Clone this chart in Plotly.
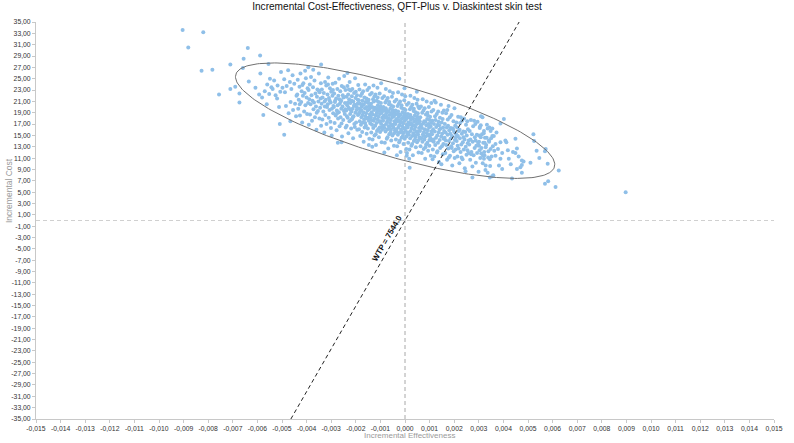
import numpy as np
import plotly.graph_objects as go

# Incremental effectiveness in thousandths of a QALY (x) and incremental cost (y),
# read off the reference scatter, split in three groups along the x axis.
eff_left = [
    -9.04, -8.2, -8.81, -8.27, -7.83, -7.56, -7.1, -7.1,
    -6.9, -6.73, -6.73, -6.56, -6.59, -6.35, -6.08, -5.93,
    -6.39, -5.81, -5.7, -5.62, -5.6, -5.52, -5.49, -5.43, -5.88,
    -5.89, -5.55, -5.76, -5.38, -5.32, -5.26, -5.2, -5.18, -5.12, -5.07,
    -5.04, -4.98, -4.91,
    -5.09, -4.88, -4.84, -4.81, -4.75, -4.73, -4.68, -4.65, -4.62, -4.57,
    -4.55, -4.5, -4.47, -4.43, -4.41, -4.66,
    -4.91, -4.38, -4.36, -4.34, -4.32, -4.29, -4.27, -4.25, -4.22, -4.2,
    -4.18, -4.15, -4.13, -4.1, -4.08, -4.05, -4.03, -4.0, -3.98, -3.96,
    -3.94, -3.92, -3.91, -4.06, -4.17, -4.28,
    -3.89, -3.87, -3.86, -3.84, -3.82, -3.8, -3.78, -3.76, -3.74, -3.72,
    -3.7, -3.68, -3.66, -3.64, -3.62, -3.6, -3.58, -3.56, -3.54, -3.52,
    -3.5, -3.48, -3.47, -3.45, -3.43, -3.42, -3.41, -3.73, -3.59, -3.51,
    -3.39, -3.38, -3.36, -3.35, -3.93, -3.32, -3.3, -3.28, -3.27, -3.25,
    -3.24, -3.22, -3.2, -3.19, -3.17, -3.15, -3.14, -3.12, -3.1, -3.09,
    -3.07, -3.05, -3.03, -3.02, -3.0, -2.98, -2.97, -2.95, -2.94, -2.92,
    -2.91, -3.01, -3.13, -3.26, -3.06, -2.93,
    -2.89, -2.88, -2.86, -2.85, -2.83, -2.82, -3.41, -2.8, -2.78, -2.77,
    -2.75, -2.74, -2.72, -2.71, -2.69, -2.68, -2.66, -2.65, -2.63, -2.62,
    -2.6, -2.59, -2.57, -2.56, -2.54, -2.53, -2.51, -2.5, -2.48, -2.47,
    -2.45, -2.44, -2.42, -2.41, -2.84, -2.76, -2.67, -2.58, -2.49, -2.43,
    -2.73, -2.61,
]
cost_left = [
    33.6, 33.2, 30.5, 26.4, 26.6, 22.2, 27.5, 23.2,
    23.6, 22.4, 20.8, 28.5, 26.9, 24.5, 23.4, 22.2,
    30.4, 21.7, 22.8, 20.5, 24.0, 22.3, 25.0, 23.5, 25.9,
    29.1, 27.6, 18.6, 23.2, 24.7, 22.1, 21.5, 23.8, 20.0, 22.7,
    26.2, 23.4, 24.9,
    17.0, 22.6, 20.2, 23.7, 26.5, 18.9, 24.4, 20.9, 23.2, 25.6,
    19.5, 24.1, 20.6, 18.4, 22.0, 17.5,
    15.1, 22.2, 24.8, 19.7, 21.3, 23.6, 18.5, 25.9, 20.9, 22.8,
    17.3, 22.0, 24.2, 19.2, 22.5, 20.3, 25.1, 21.7, 18.8, 23.3,
    20.7, 23.0, 16.9, 26.4, 23.9, 20.5,
    21.4, 24.0, 18.7, 20.5, 25.3, 22.1, 17.6, 21.1, 23.5, 19.6,
    20.8, 24.7, 18.2, 22.4, 20.1, 16.0, 21.8, 23.1, 19.3, 21.0,
    25.9, 18.0, 22.6, 19.9, 21.5, 24.2, 16.7, 26.6, 19.0, 22.9,
    20.6, 23.1, 17.8, 21.7, 27.0, 19.2, 22.5, 15.5, 21.0, 24.4,
    18.6, 21.3, 23.8, 17.0, 20.0, 22.2, 20.5, 25.2, 18.1, 21.6,
    19.5, 23.3, 17.4, 20.8, 22.7, 15.0, 19.7, 22.0, 24.1, 18.9,
    20.2, 16.3, 24.0, 20.1, 21.1, 23.0,
    20.0, 22.4, 17.2, 20.9, 24.3, 18.5, 27.5, 21.5, 15.9, 19.4,
    23.2, 20.3, 18.0, 22.0, 19.1, 25.0, 16.6, 20.6, 22.8, 18.2,
    21.2, 19.7, 23.7, 14.8, 20.1, 22.1, 17.7, 21.7, 19.3, 25.5,
    18.8, 20.7, 23.0, 16.4, 21.1, 18.9, 21.4, 17.1, 23.5, 19.6,
    13.7, 21.0,
]

eff_mid = [
    -2.39, -2.38, -2.37, -2.35, -2.34, -2.33, -2.31, -2.3, -2.29, -2.27,
    -2.26, -2.25, -2.23, -2.22, -2.21, -2.19, -2.18, -2.17, -2.15, -2.14,
    -2.13, -2.11, -2.1, -2.09, -2.07, -2.06, -2.05, -2.03, -2.02, -2.01,
    -1.99, -2.58, -1.97, -1.95, -1.94, -1.93, -1.91, -1.9, -2.36, -2.32,
    -2.28, -2.24, -2.2, -2.16, -2.12, -2.08, -2.04, -2.0, -1.96, -1.92,
    -1.89, -1.88, -1.87, -1.86, -1.85, -1.84, -1.83, -1.82, -1.81, -1.8,
    -1.79, -2.34, -1.77, -1.76, -1.75, -1.74, -1.73, -1.72, -1.71, -1.7,
    -1.69, -1.68, -1.67, -1.66, -1.65, -1.64, -1.63, -1.62, -1.61, -1.6,
    -1.59, -1.58, -1.57, -1.56, -1.55, -1.54, -1.53, -1.52, -1.51, -1.5,
    -1.49, -1.48, -1.47, -1.46, -1.45, -1.44, -1.43, -1.42, -1.41, -1.4,
    -1.85, -1.73, -1.62, -1.51, -1.46, -1.78,
    -1.39, -1.38, -1.37, -1.36, -1.35, -1.34, -1.33, -1.32, -1.31, -1.3,
    -1.29, -1.28, -1.27, -1.26, -1.25, -1.24, -1.23, -1.22, -1.21, -1.2,
    -1.19, -1.18, -1.17, -1.16, -1.15, -1.14, -1.13, -1.12, -1.11, -1.1,
    -1.09, -1.08, -1.07, -1.06, -1.05, -1.04, -1.03, -1.02, -1.01, -1.0,
    -0.99, -0.98, -0.97, -0.96, -0.95, -0.94, -0.93, -0.92, -0.91, -0.9,
    -1.36, -1.27, -1.19, -1.11, -1.03, -0.97, -1.33, -1.15, -1.06, -0.93,
    -0.89, -0.88, -1.47, -0.86, -0.85, -0.84, -0.83, -0.82, -0.81, -0.8,
    -0.79, -0.78, -0.77, -0.76, -0.75, -0.74, -0.73, -0.72, -0.71, -0.7,
    -0.69, -0.68, -0.67, -0.66, -0.65, -0.64, -0.63, -0.62, -0.61, -0.6,
    -0.59, -0.58, -0.57, -0.56, -0.55, -0.54, -0.53, -0.52, -0.51, -0.5,
    -0.49, -0.48, -0.47, -0.46, -0.45, -0.44, -0.43, -0.42, -0.41, -0.4,
    -0.86, -0.78, -0.71, -0.64, -0.57, -0.49, -0.84, -0.67, -0.53, -0.44,
    -0.75, -0.61,
    -0.39, -0.38, -0.37, -0.36, -0.35, -0.34, -0.33, -0.32, -0.31, -0.3,
    -0.29, -0.28, -0.27, -0.26, -0.25, -0.24, -0.23, -0.22, -0.21, -0.2,
    -0.19, -0.18, -0.17, -0.16, -0.15, -0.14, -0.13, -0.12, -0.11, -0.1,
    -0.09, -0.08, -0.07, -0.06, -0.05, -0.04, -0.03, -0.02, -0.01, 0.0,
    0.01, 0.02, 0.03, 0.04, 0.05, 0.06, 0.07, 0.08, 0.09, 0.1,
    -0.36, -0.28, -0.21, -0.14, -0.07, 0.01, -0.33, -0.16, -0.03, 0.06,
    -0.25, -0.11, -0.02, 0.08,
    0.11, 0.12, 0.13, 0.14, 0.15, 0.16, 0.17, 0.18, 0.19, 0.2,
    0.21, 0.22, 0.23, 0.24, 0.25, 0.26, 0.27, 0.28, 0.29, 0.3,
    0.31, 0.32, 0.33, 0.34, 0.35, 0.36, 0.37, 0.38, 0.39, 0.4,
    0.41, 0.42, 0.43, 0.44, 0.45, 0.46, 0.47, 0.48, 0.49, 0.5,
    0.51, 0.52, 0.53, 0.54, 0.55, 0.56, 0.57, 0.58, 0.59, 0.6,
    0.14, 0.22, 0.29, 0.36, 0.43, 0.51, 0.17, 0.34, 0.47, 0.56,
    0.25, 0.39, 0.48, 0.54, -0.23,
]
cost_mid = [
    19.4, 21.8, 16.7, 20.3, 23.7, 18.1, 22.2, 15.4, 19.9, 21.4,
    17.5, 24.4, 18.8, 20.7, 22.9, 16.2, 19.2, 21.1, 17.9, 23.2,
    19.7, 14.5, 21.0, 18.4, 22.5, 17.0, 20.4, 25.1, 19.0, 21.6,
    17.3, 13.8, 19.5, 22.1, 16.0, 20.6, 18.6, 23.9, 18.4, 20.8,
    23.1, 19.6, 17.7, 21.9, 18.2, 20.2, 16.5, 22.7, 20.0, 21.3,
    18.8, 21.2, 16.1, 19.7, 23.1, 17.5, 20.6, 14.9, 19.3, 22.0,
    16.9, 26.0, 18.2, 20.1, 22.4, 15.6, 18.6, 20.5, 17.3, 22.8,
    19.1, 13.9, 20.4, 17.8, 21.7, 16.4, 19.8, 24.0, 18.4, 20.9,
    16.7, 18.9, 21.5, 15.3, 20.0, 18.0, 23.0, 19.4, 16.2, 20.7,
    18.1, 21.3, 17.6, 19.6, 14.4, 20.2, 18.7, 22.2, 17.1, 19.9,
    19.0, 21.1, 17.2, 21.0, 23.4, 19.5,
    18.2, 20.6, 15.5, 19.1, 22.5, 16.9, 20.0, 14.3, 18.7, 21.4,
    16.3, 23.8, 17.6, 19.5, 21.8, 15.0, 18.0, 19.9, 16.7, 22.2,
    18.5, 13.3, 19.8, 17.2, 21.1, 15.8, 19.2, 23.4, 17.8, 20.3,
    16.1, 18.3, 20.9, 14.7, 19.4, 17.4, 22.4, 18.8, 15.6, 20.1,
    17.5, 20.7, 17.0, 19.0, 13.8, 19.6, 18.1, 21.6, 16.5, 19.3,
    17.7, 21.0, 15.2, 21.7, 16.4, 24.2, 13.0, 18.9, 19.7, 16.0,
    17.6, 20.0, 13.3, 18.5, 21.9, 16.3, 19.4, 13.7, 18.1, 20.8,
    15.7, 23.2, 17.0, 18.9, 21.2, 14.4, 17.4, 19.3, 16.1, 21.6,
    17.9, 12.7, 19.2, 16.6, 20.5, 15.2, 18.6, 22.8, 17.2, 19.7,
    15.5, 17.7, 20.3, 14.1, 18.8, 16.8, 21.8, 18.2, 15.0, 19.5,
    16.9, 20.1, 16.4, 18.4, 13.2, 19.0, 17.5, 21.0, 15.9, 18.7,
    16.7, 19.8, 14.7, 20.9, 16.0, 22.5, 12.0, 18.0, 19.1, 15.4,
    18.3, 16.2,
    17.0, 19.4, 14.3, 17.9, 21.3, 15.7, 18.8, 13.1, 17.5, 20.2,
    15.1, 22.6, 16.4, 18.3, 20.6, 13.8, 16.8, 18.7, 15.5, 21.0,
    17.3, 12.1, 18.6, 16.0, 19.9, 14.6, 18.0, 22.2, 16.6, 19.1,
    14.9, 17.1, 19.7, 13.5, 18.2, 16.2, 21.2, 17.6, 14.4, 18.9,
    16.3, 19.5, 15.8, 17.8, 12.6, 18.4, 16.9, 20.4, 15.3, 18.1,
    16.1, 19.2, 14.1, 20.3, 15.4, 21.9, 11.5, 17.4, 18.5, 14.8,
    17.7, 15.6, 23.3, 11.9,
    16.4, 18.8, 13.7, 17.3, 20.7, 15.1, 18.2, 12.5, 16.9, 19.6,
    14.5, 22.0, 15.8, 17.7, 20.0, 13.2, 16.2, 18.1, 14.9, 20.4,
    16.7, 11.5, 18.0, 15.4, 19.3, 14.0, 17.4, 21.6, 16.0, 18.5,
    14.3, 16.5, 19.1, 12.9, 17.6, 15.6, 20.6, 17.0, 13.8, 18.3,
    15.7, 18.9, 15.2, 17.2, 12.0, 17.8, 16.3, 19.8, 14.7, 17.5,
    15.5, 18.6, 13.5, 19.7, 14.8, 21.3, 10.9, 16.8, 17.9, 14.2,
    17.1, 15.0, 22.7, 20.1, 25.0,
]

eff_right = [
    0.61, 0.62, 0.63, 0.64, 0.65, 0.66, 0.07, 0.68, 0.69, 0.7,
    0.71, 0.72, 0.73, 0.74, 0.75, 0.76, 0.77, 0.78, 0.79, 0.8,
    0.81, 0.82, 0.83, 0.84, 0.85, 0.86, 0.87, 0.88, 0.89, 0.9,
    0.91, 0.92, 0.93, 0.94, 0.95, 0.96, 0.97, 0.98, 0.99, 1.0,
    1.01, 1.02, 1.03, 1.04, 1.05, 1.06, 1.07, 1.08, 1.09, 0.66,
    0.74, 0.83, 0.91, 0.99, 1.07, 0.19,
    1.1, 1.11, 1.13, 1.14, 1.15, 1.17, 1.18, 1.19, 1.21, 1.22,
    1.23, 1.25, 1.26, 1.27, 1.29, 1.3, 1.31, 1.33, 1.34, 1.35,
    1.37, 1.38, 1.39, 1.41, 1.42, 1.43, 1.45, 1.46, 1.47, 1.49,
    1.5, 1.51, 1.53, 1.54, 1.55, 1.57, 1.58, 1.59, 1.16, 1.24,
    1.32, 1.4, 1.48, 1.56, 1.2, 1.36, 1.52, 1.12,
    1.61, 1.62, 1.64, 1.65, 1.67, 1.68, 1.7, 1.71, 1.73, 1.74,
    1.76, 1.77, 1.79, 1.8, 1.82, 1.83, 1.85, 1.86, 1.88, 1.89,
    1.91, 1.92, 1.94, 1.95, 1.97, 1.98, 2.0, 2.01, 2.03, 2.04,
    2.06, 2.07, 2.09, 1.66, 1.72, 1.78, 1.84, 1.9, 1.96, 2.02,
    2.08, 1.75,
    2.1, 2.12, 2.13, 2.15, 2.16, 2.18, 2.19, 2.21, 2.23, 2.24,
    2.26, 2.27, 2.29, 2.31, 2.32, 2.34, 2.35, 2.37, 2.39, 2.4,
    2.42, 2.43, 2.45, 2.47, 2.48, 2.5, 2.51, 2.53, 2.55, 2.56,
    2.58, 2.59, 2.14, 2.22, 2.3, 2.38, 2.46, 2.54,
    2.61, 2.63, 2.65, 2.66, 2.68, 2.7, 2.72, 2.74, 2.75, 2.77,
    2.79, 2.81, 2.83, 2.84, 2.86, 2.88, 2.9, 2.92, 2.93, 2.95,
    2.97, 2.99, 3.01, 3.03, 3.04, 3.06, 3.08, 3.09, 2.69, 2.87,
    3.11, 3.13, 3.16, 3.18, 3.2, 3.23, 3.25, 3.27, 3.3, 3.32,
    2.74, 3.36, 3.39, 3.41, 3.43, 3.46, 3.48, 3.5, 3.52, 3.55,
    3.57, 3.59, 3.22, 3.45,
    3.01, 3.01, 3.08, 3.15, 3.17, 3.21, 3.21, 3.28, 3.28, 3.45,
    3.48, 3.04, 3.1, 3.24, 3.33, 3.38, 3.42, 3.36,
    3.55, 3.61, 3.68, 3.68, 3.55, 3.88, 3.88, 3.95, 3.88, 3.82,
    3.95, 3.72, 3.63, 3.78,
    4.02, 4.08, 4.12, 4.22, 4.35, 4.39, 4.49, 4.49, 4.18, 4.3,
    4.55, 4.55, 4.69, 4.75, 4.82, 4.75, 4.75, 4.62,
    5.22, 5.25, 5.46, 5.1, 5.35,
    5.69, 5.72, 5.8, 5.82, 5.69, 6.12, 6.25, 8.97,
]
cost_right = [
    15.8, 18.2, 13.1, 16.7, 20.1, 14.5, 11.4, 11.9, 16.3, 19.0,
    13.9, 21.4, 15.2, 17.1, 19.4, 12.6, 15.6, 17.5, 14.3, 19.8,
    16.1, 10.9, 17.4, 14.8, 18.7, 13.4, 16.8, 21.0, 15.4, 17.9,
    13.7, 15.9, 18.5, 12.3, 17.0, 15.0, 20.0, 16.4, 13.2, 17.7,
    15.1, 18.3, 14.6, 16.6, 11.4, 17.2, 15.7, 19.2, 14.1, 16.9,
    14.9, 12.9, 19.0, 14.2, 20.7, 9.3,
    15.2, 17.6, 12.5, 16.1, 19.5, 13.9, 17.0, 11.3, 15.7, 18.4,
    13.3, 20.8, 14.6, 16.5, 18.8, 12.0, 15.0, 16.9, 13.7, 19.2,
    15.5, 10.3, 16.8, 14.2, 18.1, 12.8, 16.2, 20.4, 14.8, 17.3,
    13.1, 15.3, 17.9, 11.7, 16.4, 14.4, 19.4, 15.8, 14.3, 17.7,
    12.2, 16.0, 9.9, 13.5, 21.1, 17.4, 19.0, 10.8,
    14.6, 17.0, 11.9, 15.5, 18.9, 13.3, 16.4, 10.7, 15.1, 17.8,
    12.7, 20.2, 14.0, 15.9, 18.2, 11.4, 14.4, 16.3, 13.1, 18.6,
    14.9, 9.7, 16.2, 13.6, 17.5, 12.2, 15.6, 19.8, 14.2, 16.7,
    12.5, 14.7, 17.3, 14.1, 19.5, 11.1, 15.3, 12.8, 16.0, 11.0,
    15.2, 16.7,
    14.0, 16.4, 11.3, 14.9, 18.3, 12.7, 15.8, 10.1, 14.5, 17.2,
    12.1, 18.2, 13.4, 15.3, 17.6, 10.8, 13.8, 15.7, 12.5, 18.0,
    14.3, 9.2, 15.6, 13.0, 16.9, 11.6, 15.0, 17.5, 13.6, 16.1,
    11.9, 14.1, 13.2, 16.0, 11.1, 14.7, 8.7, 12.4,
    13.4, 15.8, 10.7, 14.3, 17.7, 12.1, 15.2, 9.5, 13.9, 16.6,
    11.5, 17.6, 12.8, 14.7, 17.0, 10.2, 13.2, 15.1, 11.9, 17.4,
    13.7, 8.6, 15.0, 12.4, 16.3, 11.0, 16.8, 18.4, 11.7, 14.1,
    12.8, 15.2, 10.1, 13.7, 15.4, 11.5, 14.6, 8.9, 13.3, 14.6,
    7.6, 16.2, 12.2, 14.1, 16.4, 9.6, 12.6, 14.5, 11.3, 14.9,
    13.1, 8.0, 12.1, 10.8,
    13.9, 13.2, 14.7, 18.2, 11.4, 15.8, 10.9, 12.9, 9.7, 7.6,
    15.8, 16.5, 11.8, 13.7, 16.9, 11.1, 13.9, 8.4,
    16.2, 14.9, 13.5, 11.4, 7.8, 17.1, 13.8, 11.9, 10.9, 9.7,
    9.1, 15.5, 12.3, 12.6,
    17.9, 14.1, 13.8, 10.9, 7.4, 12.1, 11.9, 14.4, 12.4, 9.9,
    12.7, 9.1, 9.4, 10.6, 10.4, 9.8, 8.4, 11.3,
    15.2, 14.0, 11.0, 10.2, 12.3,
    12.2, 12.6, 10.0, 6.9, 6.5, 5.9, 8.8, 5.0,
]

wtp = 7544.0
eff_ticks = [i / 1000 for i in range(-15, 16)]
cost_ticks = list(range(-35, 36, 2))

assert len(eff_left) == len(cost_left)
assert len(eff_mid) == len(cost_mid)
assert len(eff_right) == len(cost_right)

eff = np.array(eff_left + eff_mid + eff_right) / 1000
cost = np.array(cost_left + cost_mid + cost_right)

# 95% confidence ellipse of the joint distribution
mu = np.array([eff.mean(), cost.mean()])
vals, vecs = np.linalg.eigh(np.cov(eff, cost))
t = np.linspace(0, 2 * np.pi, 240)
circ = np.vstack([np.cos(t), np.sin(t)])
ell = vecs @ (np.sqrt(vals * 5.991)[:, None] * circ)
ell_x = mu[0] + ell[0]
ell_y = mu[1] + ell[1]

fig = go.Figure()

# dashed quadrant lines through the origin
fig.add_trace(go.Scatter(x=[0, 0], y=[-35, 35], mode='lines',
                         line=dict(color='#a8a8a8', width=1, dash='4px,3px'), hoverinfo='skip'))
fig.add_trace(go.Scatter(x=[-0.015, 0.015], y=[0, 0], mode='lines',
                         line=dict(color='#d0d0d0', width=1, dash='4px,3px'), hoverinfo='skip'))

fig.add_trace(go.Scatter(x=eff, y=cost, mode='markers',
                         marker=dict(size=4, color='#8fbfe8'), name='ICER'))

fig.add_trace(go.Scatter(x=ell_x, y=ell_y, mode='lines',
                         line=dict(color='#707070', width=1), hoverinfo='skip'))

wtp_y = np.array([-35, 35])
fig.add_trace(go.Scatter(x=wtp_y / wtp, y=wtp_y, mode='lines',
                         line=dict(color='#222222', width=1, dash='4px,3px'), hoverinfo='skip'))

fig.add_annotation(x=-0.00074, y=-3.1, text='<b>WTP = 7544.0</b>', showarrow=False,
                   textangle=-60, xanchor='center', yanchor='middle',
                   font=dict(family='Liberation Sans', size=8, color='#111111'))

fig.add_annotation(xref='paper', yref='paper', x=0.506, y=-0.042, text='Incremental Effectiveness',
                   showarrow=False, xanchor='center', yanchor='middle',
                   font=dict(family='Liberation Sans', size=8, color='#9a9a9a'))
fig.add_annotation(xref='paper', yref='paper', x=-0.0375, y=0.575, text='Incremental Cost',
                   showarrow=False, textangle=-90, xanchor='center', yanchor='middle',
                   font=dict(family='Liberation Sans', size=8.5, color='#9a9a9a'))

axis_common = dict(showgrid=False, zeroline=False, showline=True, linecolor='#c8c8c8',
                   ticks='outside', ticklen=3, tickcolor='#c8c8c8',
                   tickfont=dict(family='Liberation Sans', size=6.8, color='#333333'))

fig.update_layout(
    width=794, height=443,
    margin=dict(l=36, r=11, t=22, b=21),
    plot_bgcolor='white', paper_bgcolor='white',
    showlegend=False,
    title=dict(text='Incremental Cost-Effectiveness, QFT-Plus v. Diaskintest skin test',
               xref='container', x=0.5, xanchor='center', y=0.986, yanchor='middle',
               font=dict(family='Liberation Sans', size=10.1, color='#111111')),
    xaxis=dict(range=[-0.015, 0.015], tickvals=eff_ticks,
               ticktext=[f'{v:.3f}'.replace('.', ',') for v in eff_ticks], **axis_common),
    yaxis=dict(range=[-35, 35], tickvals=cost_ticks,
               ticktext=[f'{v:.2f}'.replace('.', ',') for v in cost_ticks], **axis_common),
)

# the page body has a default 8px margin; drop it so the figure sits at the window corner
fig.write_html('out.html', config={'displayModeBar': False},
               post_script="document.body.style.margin='0px';")
